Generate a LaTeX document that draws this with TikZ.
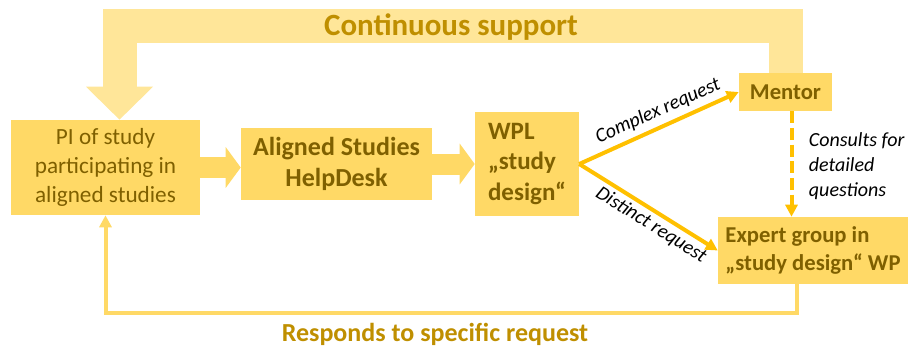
\documentclass[tikz,border=0pt]{standalone}
\usepackage{fontspec}
\setmainfont{Carlito}
\usetikzlibrary{arrows.meta}
\usetikzlibrary{calc}

\definecolor{boxfill}{HTML}{FFD966}
\definecolor{bandfill}{HTML}{FFE699}
\definecolor{arrowcol}{HTML}{FFC000}
\definecolor{boxtext}{HTML}{7F6000}
\definecolor{labeltext}{HTML}{BF8F00}

\begin{document}
\begin{tikzpicture}[x=0.75pt,y=0.75pt,yscale=-1,xscale=1,
  box/.style={fill=boxfill, text=boxtext, inner sep=0pt},
  blockarrow/.style={draw=boxfill, line width=15.75pt, -{Triangle[length=11.25pt,width=30pt]}},
  request/.style={draw=arrowcol, line width=3pt, -{Triangle[length=9pt,width=9pt]}},
  reqlabel/.style={font=\itshape\fontsize{15}{18}\selectfont, text=black, inner sep=2pt}]
\useasboundingbox (0,0) rectangle (909,350);

% Boxes
\node (pi) [box, minimum width=141.75pt, minimum height=71.25pt, align=center,
  font=\fontsize{17.4}{21.5}\selectfont] at (105.5,167.5)
  {PI of study\\participating in\\aligned studies};
\node (help) [box, minimum width=143.25pt, minimum height=54pt, align=center,
  font=\bfseries\fontsize{19.5}{23}\selectfont] at (336.5,164)
  {Aligned Studies\\HelpDesk};
\node (wpl) [box, minimum width=78pt, minimum height=78pt, align=left,
  font=\bfseries\fontsize{18.75}{23}\selectfont] at (527,164)
  {WPL\\„study\\design“};
\node (mentor) [box, minimum width=69.75pt, minimum height=28.5pt,
  font=\bfseries\fontsize{17}{20}\selectfont] at (785.5,92)
  {Mentor};
\node (expert) [box, minimum width=142.5pt, minimum height=50.25pt, align=left,
  font=\bfseries\fontsize{17}{21}\selectfont] at (813,250.5)
  {Expert group in\\„study design“ WP};

% Block arrows
\draw [blockarrow] (pi.east) -- (pi.east -| help.west);
\draw [blockarrow] (help.east) -- (help.east -| wpl.west);

% Continuous support
\draw [draw=bandfill, line width=25.5pt, line join=miter,
  -{Triangle[length=24.75pt,width=48.75pt]}]
  (mentor.north) -- (mentor.north |- 0,26) -| ($(pi.north)+(14,0)$);
\node (support) [text=labeltext, font=\bfseries\fontsize{23.2}{26}\selectfont]
  at (451,27) {Continuous support};

% Requests
\draw [request] (wpl.east) -- (mentor.west);
\node (complex) [reqlabel, rotate=24.2] at (658,111) {Complex request};
\draw [request] (wpl.east) -- (expert.west);
\node (distinct) [reqlabel, rotate=-32] at (651,225) {Distinct request};

% Consults
\coordinate (consult) at ($(mentor.south)+(6,0)$);
\draw [request, dash pattern={on 9pt off 3.5pt}] (consult) -- (consult |- expert.north);
\node (detail) [reqlabel, anchor=west, align=left, font=\itshape\fontsize{15}{18.75}\selectfont]
  at (806,166) {Consults for\\detailed\\questions};

% Responds
\coordinate (back) at ($(expert.south)+(-16,0)$);
\draw [draw=boxfill, line width=3pt, line join=miter, -{Triangle[length=9pt,width=9pt]}]
  (back) -- (back |- 0,312.5) -| (pi.south);
\node (respond) [text=labeltext, font=\bfseries\fontsize{19.5}{23}\selectfont]
  at (435,334) {Responds to specific request};

\end{tikzpicture}
\end{document}
